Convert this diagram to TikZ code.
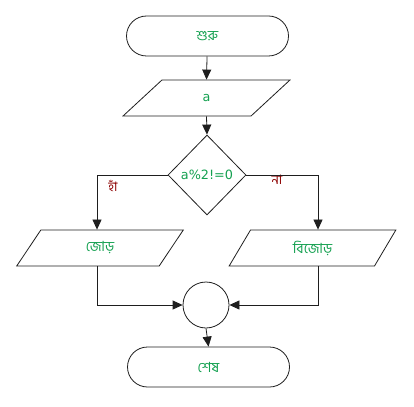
\documentclass[tikz,border=0pt]{standalone}
\usepackage{fontspec}
\newfontfamily\bn[Script=Bengali]{Hind Siliguri}
\newfontfamily\lat{DejaVu Sans}
\usetikzlibrary{shapes.geometric,shapes.misc,arrows.meta}
\definecolor{txtgreen}{RGB}{20,160,80}
\definecolor{lblred}{RGB}{140,0,0}
\definecolor{linegray}{RGB}{30,30,30}
\begin{document}
\begin{tikzpicture}[x=1pt,y=-1pt,
  every node/.style={inner sep=0pt},
  base/.style={draw=linegray,line width=0.8pt,text=txtgreen},
  term/.style={base,rounded rectangle,minimum width=162pt,minimum height=40pt},
  io/.style={base,trapezium,trapezium left angle=65,trapezium right angle=115,
     trapezium stretches=true,minimum width=167pt,minimum height=36pt},
  decision/.style={base,diamond,minimum width=78pt,minimum height=80pt},
  joint/.style={draw=linegray,line width=0.8pt,circle,minimum size=46pt},
  flow/.style={draw=linegray,line width=0.8pt,-{Triangle[length=10pt,width=9pt]}},
  lbl/.style={text=lblred,font=\bn\fontsize{13}{15}\selectfont},
  bnt/.style={font=\bn\fontsize{14}{16}\selectfont},
  lt/.style={font=\lat\fontsize{12.8}{15}\selectfont}]
\useasboundingbox (0,0) rectangle (414,406);
\node[term,bnt] (start) at (207.5,36) {শুরু};
\node[io,lt] (inp) at (206.5,98) {a};
\node[decision,lt] (dec) at (207,175) {a\%2!=0};
\node[io,bnt] (even) at (100,248) {জোড়};
\node[io,bnt] (odd) at (312.5,248) {বিজোড়};
\node[joint] (join) at (206,305) {};
\node[term,bnt] (stop) at (208.5,367) {শেষ};
\node[lbl] (yes) at (113,186) {হাঁ};
\node[lbl] (no) at (277,180) {না};
\draw[flow] (start) -- (inp.north);
\draw[flow] (inp.south) -- (dec.north);
\draw[flow] (dec.west) -| ([xshift=-3pt]even.north);
\draw[flow] (dec.east) -| ([xshift=5.5pt]odd.north);
\draw[flow] ([xshift=-3pt]even.south) |- (join.west);
\draw[flow] ([xshift=5.5pt]odd.south) |- (join.east);
\draw[flow] (join.south) -- (stop.north);
\end{tikzpicture}
\end{document}
